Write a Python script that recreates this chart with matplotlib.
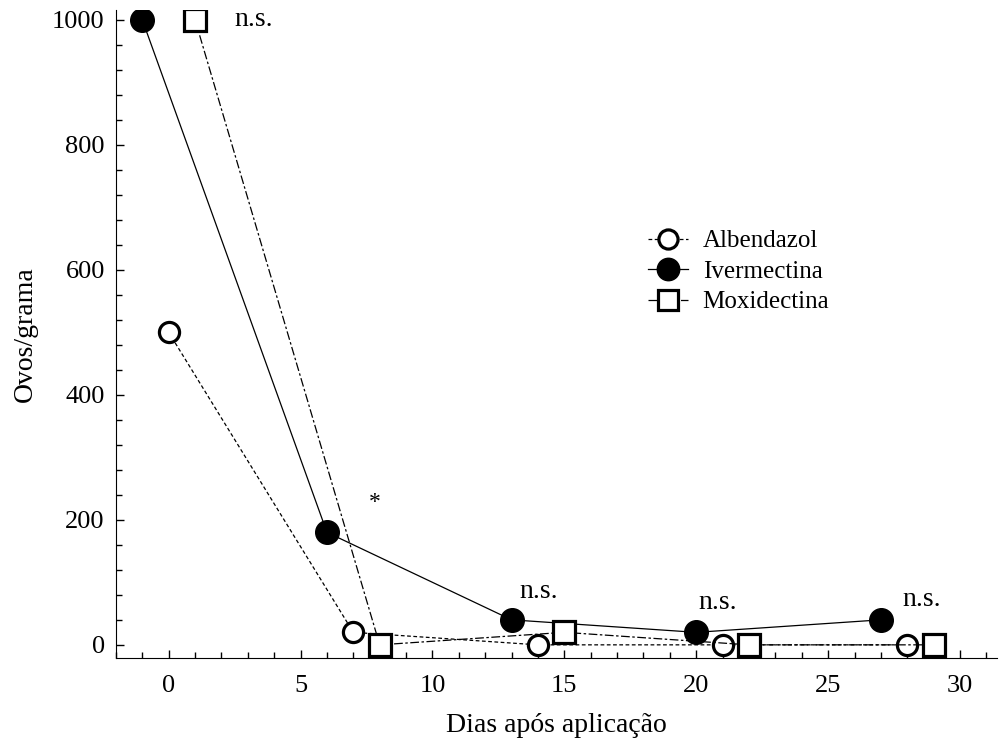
import numpy as np
import matplotlib.pyplot as plt
from matplotlib.ticker import MultipleLocator

# ------------------------------------------
# Data
# ------------------------------------------
alb_days = [0, 7, 14, 21, 28]
alb_eggs = [500, 20, 0, 0, 0]

iver_days = [-1, 6, 13, 20, 27]
iver_eggs = [1000, 180, 40, 20, 40]

moxi_days = [1, 8, 15, 22, 29]
moxi_eggs = [1000, 0, 20, 0, 0]

# significance labels: (x, y, text)
sig_x = [2.5, 7.6, 13.3, 20.1, 27.8]
sig_y = [1000, 228, 85, 67, 72]
sig_text = ['n.s.', '*', 'n.s.', 'n.s.', 'n.s.']

plt.rcParams.update({
    'font.family': 'serif',
    'font.serif': ['Liberation Serif', 'Times New Roman', 'DejaVu Serif'],
    'font.size': 18,
})

fig = plt.figure(figsize=(9.99, 7.46), dpi=100)
ax = fig.add_axes([0.116, 0.118, 0.882, 0.869])

ax.plot(alb_days, alb_eggs, linestyle=(0, (3, 2)), color='black', linewidth=0.9,
        marker='o', markersize=14.5, markerfacecolor='white',
        markeredgecolor='black', markeredgewidth=2.3, label='Albendazol', zorder=3)
ax.plot(iver_days, iver_eggs, linestyle='-', color='black', linewidth=0.9,
        marker='o', markersize=17, markerfacecolor='black',
        markeredgecolor='black', label='Ivermectina', zorder=3)
ax.plot(moxi_days, moxi_eggs, linestyle=(0, (7, 2, 2, 2)), color='black', linewidth=0.9,
        marker='s', markersize=15.5, markerfacecolor='white',
        markeredgecolor='black', markeredgewidth=2.3, label='Moxidectina', zorder=3)

for x, y, t in zip(sig_x, sig_y, sig_text):
    ax.text(x, y, t, ha='left', va='center', fontsize=20 if t != '*' else 17)

ax.set_xlim(-2, 31.4)
ax.set_ylim(-21, 1016)

ax.xaxis.set_major_locator(MultipleLocator(5))
ax.xaxis.set_minor_locator(MultipleLocator(1))
ax.yaxis.set_major_locator(MultipleLocator(200))
ax.yaxis.set_minor_locator(MultipleLocator(40))
ax.tick_params(which='both', direction='in', width=1)
ax.tick_params(which='major', length=6)
ax.tick_params(which='minor', length=4)
ax.tick_params(axis='x', which='major', pad=12)
ax.tick_params(axis='y', which='major', pad=8, labelsize=19)
ax.tick_params(axis='x', labelsize=19)

ax.spines['top'].set_visible(False)
ax.spines['right'].set_visible(False)

ax.set_xlabel('Dias após aplicação', fontsize=20, labelpad=12)
ax.set_ylabel('Ovos/grama', fontsize=20, labelpad=10)

ax.legend(loc='upper left', bbox_to_anchor=(0.578, 0.695), frameon=False,
          fontsize=18, handlelength=1.6, handletextpad=0.6, labelspacing=0.32,
          markerscale=0.95)

fig.savefig('out.png', dpi=100)
